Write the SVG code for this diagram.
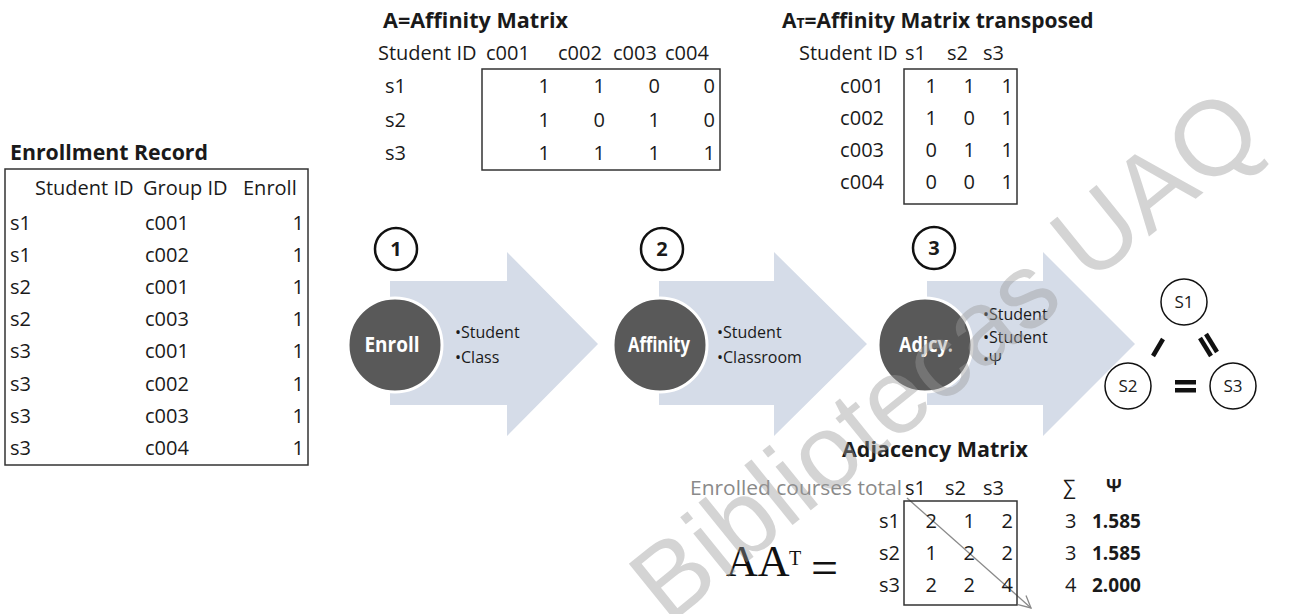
<svg xmlns="http://www.w3.org/2000/svg" width="1289" height="614" viewBox="0 0 1289 614">
<style>
text{font-family:'Open Sans','Liberation Sans',sans-serif;font-size:20px;fill:#1a1a1a}
.b{font-weight:bold;font-size:21px}
.e{text-anchor:end}
.m{text-anchor:middle}
.box{fill:none;stroke:#333;stroke-width:1.5}
.arrow{fill:#d5dce8}
.disc{fill:#595959;stroke:#fff;stroke-width:3}
.dl{fill:#fff;font-weight:bold;font-size:21px;text-anchor:middle}
.bul{font-size:16px}
.num{fill:#fff;stroke:#111;stroke-width:2.5}
.nt{font-weight:bold;font-size:20px;text-anchor:middle}
.gn{fill:#fff;stroke:#111;stroke-width:1.5}
.gt{font-size:17px;text-anchor:middle}
.mark{stroke:#111;stroke-width:4.5}
.serif{font-family:'Liberation Serif','Times New Roman',serif;fill:#111}
</style>
<defs>
<marker id="arr" viewBox="0 0 14 14" refX="13" refY="7" markerWidth="14" markerHeight="14" markerUnits="userSpaceOnUse" orient="auto">
<path d="M1,1 L13,7 L1,13" fill="none" stroke="#8a8a8a" stroke-width="1.3"/>
</marker>
</defs>
<rect width="1289" height="614" fill="#fff"/>

<g id="enrollment-record">
<text class="b" x="10" y="160" textLength="198" lengthAdjust="spacingAndGlyphs">Enrollment Record</text>
<rect class="box" x="5" y="169" width="303" height="296"/>
<text x="35" y="195">Student ID</text><text x="143" y="195">Group ID</text><text x="243" y="195">Enroll</text>
<text x="10" y="230">s1</text><text x="145" y="230">c001</text><text class="e" x="304" y="230">1</text>
<text x="10" y="262">s1</text><text x="145" y="262">c002</text><text class="e" x="304" y="262">1</text>
<text x="10" y="294">s2</text><text x="145" y="294">c001</text><text class="e" x="304" y="294">1</text>
<text x="10" y="326">s2</text><text x="145" y="326">c003</text><text class="e" x="304" y="326">1</text>
<text x="10" y="358">s3</text><text x="145" y="358">c001</text><text class="e" x="304" y="358">1</text>
<text x="10" y="391">s3</text><text x="145" y="391">c002</text><text class="e" x="304" y="391">1</text>
<text x="10" y="423">s3</text><text x="145" y="423">c003</text><text class="e" x="304" y="423">1</text>
<text x="10" y="455">s3</text><text x="145" y="455">c004</text><text class="e" x="304" y="455">1</text>
</g>

<g id="affinity-matrix">
<text class="b" x="383" y="28" textLength="185" lengthAdjust="spacingAndGlyphs">A=Affinity Matrix</text>
<text x="378" y="60">Student ID</text><text x="486" y="60">c001</text><text x="558" y="60">c002</text><text x="613" y="60">c003</text><text x="665" y="60">c004</text>
<rect class="box" x="482" y="69" width="238" height="101"/>
<text x="385" y="93">s1</text><text class="e" x="550" y="93">1</text><text class="e" x="605" y="93">1</text><text class="e" x="660" y="93">0</text><text class="e" x="715" y="93">0</text>
<text x="385" y="127">s2</text><text class="e" x="550" y="127">1</text><text class="e" x="605" y="127">0</text><text class="e" x="660" y="127">1</text><text class="e" x="715" y="127">0</text>
<text x="385" y="160">s3</text><text class="e" x="550" y="160">1</text><text class="e" x="605" y="160">1</text><text class="e" x="660" y="160">1</text><text class="e" x="715" y="160">1</text>
</g>

<g id="affinity-transposed">
<text class="b" x="782" y="28">A<tspan font-size="14">T</tspan>=Affinity Matrix transposed</text>
<text x="799" y="60">Student ID</text><text x="905" y="60">s1</text><text x="947" y="60">s2</text><text x="983" y="60">s3</text>
<rect class="box" x="904" y="69" width="113" height="135"/>
<text class="e" x="884" y="93">c001</text><text class="e" x="937" y="93">1</text><text class="e" x="975" y="93">1</text><text class="e" x="1013" y="93">1</text>
<text class="e" x="884" y="125">c002</text><text class="e" x="937" y="125">1</text><text class="e" x="975" y="125">0</text><text class="e" x="1013" y="125">1</text>
<text class="e" x="884" y="157">c003</text><text class="e" x="937" y="157">0</text><text class="e" x="975" y="157">1</text><text class="e" x="1013" y="157">1</text>
<text class="e" x="884" y="189">c004</text><text class="e" x="937" y="189">0</text><text class="e" x="975" y="189">0</text><text class="e" x="1013" y="189">1</text>
</g>

<g id="flow-arrows">
<path class="arrow" d="M390,281 H507 V252 L598,344 L507,436 V405 H390 Z"/>
<path class="arrow" d="M659,281 H774 V252 L867,344 L774,436 V405 H659 Z"/>
<path class="arrow" d="M927,281 H1043 V252 L1135,344 L1043,436 V405 H927 Z"/>
</g>

<g id="step-1">
<circle class="num" cx="396" cy="249" r="21"/><text class="nt" x="396" y="256">1</text>
<circle class="disc" cx="395" cy="345" r="47"/>
<text class="dl" x="392" y="352" textLength="55" lengthAdjust="spacingAndGlyphs">Enroll</text>
<text class="bul" x="455" y="338">•Student</text><text class="bul" x="455" y="363">•Class</text>
</g>

<g id="step-2">
<circle class="num" cx="662" cy="249" r="21"/><text class="nt" x="662" y="256">2</text>
<circle class="disc" cx="660" cy="345" r="47"/>
<text class="dl" x="659" y="352" textLength="62" lengthAdjust="spacingAndGlyphs">Affinity</text>
<text class="bul" x="717" y="338">•Student</text><text class="bul" x="717" y="363">•Classroom</text>
</g>

<g id="step-3">
<circle class="num" cx="934" cy="248" r="21"/><text class="nt" x="934" y="255">3</text>
<circle class="disc" cx="925" cy="345" r="47"/>
<text class="dl" x="926" y="352" textLength="54" lengthAdjust="spacingAndGlyphs">Adjcy<tspan fill="#c8c8c8">.</tspan></text>
<text class="bul" x="983" y="320">•Student</text><text class="bul" x="983" y="343">•Student</text><text class="bul" x="983" y="365">•Ψ</text>
</g>

<g id="node-s1"><circle class="gn" cx="1184" cy="302" r="23"/><text class="gt" x="1184" y="308">S1</text></g>
<g id="node-s2"><circle class="gn" cx="1128" cy="386" r="23"/><text class="gt" x="1128" y="392">S2</text></g>
<g id="node-s3"><circle class="gn" cx="1233" cy="386" r="23"/><text class="gt" x="1233" y="392">S3</text></g>

<g id="connectors">
<line class="mark" x1="1153" y1="356" x2="1163" y2="339"/>
<line class="mark" x1="1200" y1="338" x2="1211" y2="356"/>
<line class="mark" x1="1206" y1="334" x2="1217" y2="352"/>
<rect x="1175" y="380" width="21" height="4.5" fill="#111"/>
<rect x="1175" y="388" width="21" height="4.5" fill="#111"/>
<line x1="907" y1="498" x2="1031" y2="608" stroke="#8a8a8a" stroke-width="1.3" marker-end="url(#arr)"/>
</g>

<g id="adjacency-matrix">
<text class="b" x="842" y="457" textLength="186" lengthAdjust="spacingAndGlyphs">Adjacency Matrix</text>
<text x="690" y="495" style="fill:#8a8a8a" textLength="212" lengthAdjust="spacingAndGlyphs">Enrolled courses total</text>
<text x="905" y="495">s1</text><text x="945" y="495">s2</text><text x="983" y="495">s3</text>
<text x="1063" y="494">∑</text>
<text x="1106" y="492" style="font-weight:bold;font-size:18px">Ψ</text>
<rect class="box" x="904" y="501" width="113" height="104"/>
<text class="e" x="900" y="528">s1</text><text class="e" x="937" y="528">2</text><text class="e" x="975" y="528">1</text><text class="e" x="1013" y="528">2</text>
<text class="e" x="900" y="560">s2</text><text class="e" x="937" y="560">1</text><text class="e" x="975" y="560">2</text><text class="e" x="1013" y="560">2</text>
<text class="e" x="900" y="592">s3</text><text class="e" x="937" y="592">2</text><text class="e" x="975" y="592">2</text><text class="e" x="1013" y="592">4</text>
<text x="1065" y="528">3</text><text x="1092" y="528" style="font-weight:bold;font-size:19px">1.585</text>
<text x="1065" y="560">3</text><text x="1092" y="560" style="font-weight:bold;font-size:19px">1.585</text>
<text x="1065" y="592">4</text><text x="1092" y="592" style="font-weight:bold;font-size:19px">2.000</text>
<text class="serif" x="726" y="576" style="font-size:44px">AA</text>
<text class="serif" x="789" y="565" style="font-size:20px">T</text>
<text class="serif" x="811" y="584" style="font-size:48px">=</text>
</g>

<g id="watermark">
<text transform="translate(668,626) rotate(-39)" style="font-family:'Liberation Sans',sans-serif;font-size:106px;fill:#9a9a9a;opacity:0.42">Bibliotecas UAQ</text>
</g>
</svg>
